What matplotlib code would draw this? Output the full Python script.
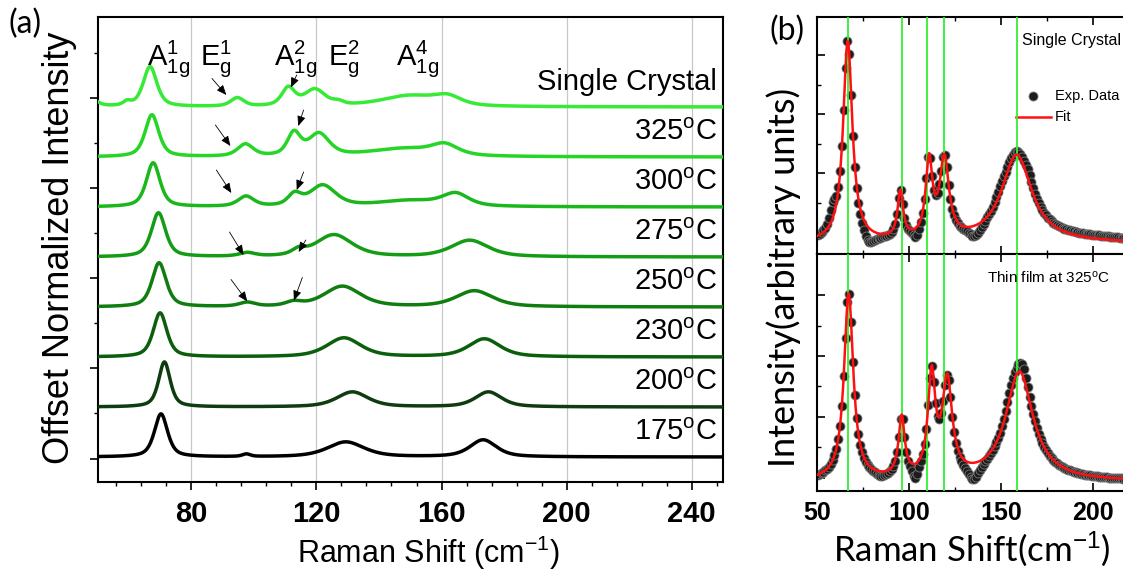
import numpy as np
import matplotlib.pyplot as plt

plt.rcParams['font.family'] = ['Liberation Sans', 'DejaVu Sans']
plt.rcParams['mathtext.fontset'] = 'custom'
plt.rcParams['mathtext.rm'] = 'Liberation Sans'
plt.rcParams['mathtext.it'] = 'Liberation Sans:italic'
plt.rcParams['mathtext.bf'] = 'Liberation Sans:bold'

# ---------------- panel (a): offset spectra, peaks
# each peak = (centre cm-1, height, half width)
labels_a = ['Single Crystal', r'325$^\mathrm{o}$C', r'300$^\mathrm{o}$C', r'275$^\mathrm{o}$C',
            r'250$^\mathrm{o}$C', r'230$^\mathrm{o}$C', r'200$^\mathrm{o}$C', r'175$^\mathrm{o}$C']
offsets_a = [7, 6, 5, 4, 3, 2, 1, 0]
colors_a = ['#36ea36', '#26d626', '#1bb81b', '#159c15', '#0f7d0f', '#0b5e0b', '#0f3c0f', '#000000']

peaks_sc = [(47, 0.25, 2.5), (59.5, 0.08, 1.5), (66.8, 0.80, 2.6), (94.7, 0.17, 2.5),
            (111.0, 0.36, 2.5), (119.5, 0.33, 4.0), (127, 0.06, 2.0), (150, 0.22, 11), (162, 0.16, 5)]
peaks_325 = [(67.4, 0.84, 2.6), (97.3, 0.24, 3.0), (112.8, 0.45, 2.5), (120.8, 0.44, 4.0),
             (148, 0.16, 13), (161, 0.20, 5.0)]
peaks_300 = [(67.8, 0.88, 2.6), (97.5, 0.20, 3.0), (113.0, 0.22, 2.5), (122.0, 0.42, 5.0),
             (150, 0.12, 12), (164.5, 0.24, 5)]
peaks_275 = [(69.5, 0.88, 2.7), (97.9, 0.07, 3.0), (114.3, 0.10, 2.5), (125.6, 0.44, 7.0), (169.0, 0.33, 7.0)]
peaks_250 = [(69.7, 0.88, 2.7), (97.9, 0.08, 3.0), (112.7, 0.08, 3.0), (128.3, 0.41, 7.0), (170.5, 0.32, 7.0)]
peaks_230 = [(70.0, 0.88, 2.6), (128.8, 0.38, 6.5), (173.7, 0.36, 6.0)]
peaks_200 = [(71.4, 0.90, 2.2), (131.5, 0.30, 6.0), (175.0, 0.30, 5.0)]
peaks_175 = [(70.3, 0.86, 2.5), (97.6, 0.05, 1.5), (129.4, 0.30, 7.0), (173.3, 0.34, 5.0)]
peaks_a = [peaks_sc, peaks_325, peaks_300, peaks_275, peaks_250, peaks_230, peaks_200, peaks_175]

mode_names = [r'$\mathrm{A}_{\mathrm{1g}}^{\mathrm{1}}$', r'$\mathrm{E}_{\mathrm{g}}^{\mathrm{1}}$',
              r'$\mathrm{A}_{\mathrm{1g}}^{\mathrm{2}}$', r'$\mathrm{E}_{\mathrm{g}}^{\mathrm{2}}$',
              r'$\mathrm{A}_{\mathrm{1g}}^{\mathrm{4}}$']
mode_x = [65.9, 82.9, 106.3, 123.6, 145.4]

# arrows (tail x, tail y, head x, head y)
arrows_a = [(86.6, 7.57, 91.2, 7.24), (113.7, 7.64, 111.8, 7.39),
            (87.7, 6.64, 92.5, 6.22), (115.9, 6.94, 114.2, 6.62),
            (88.0, 5.74, 92.8, 5.28), (115.9, 5.70, 113.7, 5.34),
            (92.2, 4.50, 96.7, 4.04), (116.6, 4.34, 114.3, 4.10),
            (92.7, 3.55, 97.9, 3.11), (115.5, 3.59, 112.8, 3.13)]

# ---------------- panel (b): fits (centre, height, hwhm) and extra structure of the data
fit_sc = [(66.7, 0.85, 3.0), (95.3, 0.20, 1.8), (110.9, 0.32, 2.2), (119.2, 0.33, 3.0), (158.5, 0.37, 10.0)]
dev_sc = [(58.5, 0.07, 2.0), (78, -0.06, 4), (104, -0.04, 2.0), (136, -0.05, 4), (150, 0.03, 4),
          (165, 0.03, 3), (200, 0.015, 30)]
base_sc = 0.045
fit_tf = [(67.2, 0.79, 3.0), (96.0, 0.25, 2.0), (112.3, 0.42, 2.4), (120.8, 0.40, 3.2), (160.0, 0.46, 9.0)]
dev_tf = [(85, -0.02, 3), (103.5, -0.06, 2), (135, -0.07, 4), (155, 0.03, 3), (162, 0.04, 3)]
base_tf = 0.04
green_lines = [66.7, 96.2, 109.6, 119.0, 158.5]


def spectrum(x, peaks, eta=0.6):
    y = np.zeros_like(x)
    for c, h, w in peaks:
        u = ((x - c) / w) ** 2
        y += h * (eta / (1 + u) + (1 - eta) * np.exp(-np.log(2) * u))
    return y


W, H = 1123, 573
fig = plt.figure(figsize=(W / 100, H / 100), dpi=100)

def px_axes(l, t, r, b):
    return fig.add_axes([l / W, 1 - b / H, (r - l) / W, (b - t) / H])

# ================= panel (a)
ax = px_axes(97.5, 17, 723, 482)
x = np.arange(50, 250.01, 0.25)
for pk, off, col in zip(peaks_a, offsets_a, colors_a):
    ax.plot(x, off + spectrum(x, pk), color=col, lw=2.5, solid_capstyle='round', zorder=3)
for lab, off in zip(labels_a, offsets_a):
    ax.text(248, off + 0.5, lab, ha='right', va='center', fontsize=21)
for nm, mx in zip(mode_names, mode_x):
    ax.text(mx, 7.84, nm, ha='left', va='baseline', fontsize=21)
for xt, yt, xh, yh in arrows_a:
    ax.annotate('', xy=(xh, yh), xytext=(xt, yt),
                arrowprops=dict(arrowstyle='-|>,head_length=0.6,head_width=0.25',
                                color='black', lw=0.6, shrinkA=0, shrinkB=0), zorder=4)

ax.set_xlim(50, 250)
ax.set_ylim(-0.5, 8.8)
ax.set_xticks([80, 120, 160, 200, 240])
ax.set_xticks(np.arange(56, 250, 8), minor=True)
ax.set_yticks([-0.04, 1.78, 3.58, 5.38, 7.18])
ax.set_yticks([0.88, 2.68, 4.48, 6.28, 8.08], minor=True)
ax.set_yticklabels([])
ax.grid(True, axis='x', which='major', color='#c8c8c8', lw=0.9)
ax.tick_params(axis='x', which='major', direction='out', length=6, width=1.2, pad=7)
ax.tick_params(axis='x', which='minor', direction='out', length=3, width=1.0)
ax.tick_params(axis='y', which='major', direction='out', length=6, width=1.2)
ax.tick_params(axis='y', which='minor', direction='out', length=3, width=1.0)
for lbl in ax.get_xticklabels():
    lbl.set_fontweight('bold')
    lbl.set_fontsize(21)
for s in ax.spines.values():
    s.set_linewidth(1.5)

fig.text(428 / W, 1 - 553 / H, r'Raman Shift (cm$^{-1}$)', ha='center', va='center', fontsize=22)
fig.text(60 / W, 1 - 248 / H, 'Offset Normalized Intensity', ha='center', va='center',
         rotation=90, fontsize=26)
fig.text(25 / W, 1 - 24 / H, '(a)', ha='center', va='center', fontsize=23, family=['Lato', 'DejaVu Sans'])

# ================= panel (b)
xb = np.arange(50, 250.01, 0.5)
xd = np.arange(50.5, 250, 1.0)
axt = px_axes(817, 16.7, 1185, 254)
axb = px_axes(817, 254, 1185, 491)

for a, fit, dev, base, ttl, tx, fs, maj, mnr in [
        (axt, fit_sc, dev_sc, base_sc, 'Single Crystal', 0.558, 11.5,
         [0.09, 0.34, 0.589, 0.838], [0.215, 0.464, 0.713]),
        (axb, fit_tf, dev_tf, base_tf, r'Thin film at 325$^\mathrm{o}$C', 0.461, 11,
         [0.055, 0.312, 0.57, 0.827], [0.186, 0.443, 0.696])]:
    yd = base + spectrum(xd, fit, eta=1.0) + spectrum(xd, dev, eta=1.0)
    a.plot(xd, yd, 'o', ms=6.5, mfc='#1c1c1c', mec='#7a7a7a', mew=0.6, zorder=2)
    for g in green_lines:
        a.axvline(g, color='#33f033', lw=1.3, zorder=3)
    a.plot(xb, base + spectrum(xb, fit, eta=1.0), color='#ff1010', lw=1.8, zorder=4)
    a.set_xlim(50, 250)
    a.set_ylim(0, 1)
    a.set_xticks([50, 100, 150, 200])
    a.set_xticks(np.arange(75, 250, 50), minor=True)
    a.set_yticks(maj)
    a.set_yticks(mnr, minor=True)
    a.set_yticklabels([])
    a.tick_params(which='both', direction='in', top=True, right=False)
    a.tick_params(which='major', length=6, width=1.2)
    a.tick_params(which='minor', length=3, width=1.0)
    for s in a.spines.values():
        s.set_linewidth(1.5)
    a.text(tx, 0.9, ttl, transform=a.transAxes, ha='left', va='center', fontsize=fs)

axt.set_xticklabels([])
axb.tick_params(axis='x', pad=7)
for lbl in axb.get_xticklabels():
    lbl.set_fontweight('bold')
    lbl.set_fontsize(18)

# legend of top panel
axt.plot([0.587], [0.664], 'o', ms=6.5, mfc='#1c1c1c', mec='#7a7a7a', mew=0.6,
         transform=axt.transAxes, clip_on=False)
axt.plot([0.540, 0.636], [0.579, 0.579], color='#ff1010', lw=1.8, transform=axt.transAxes)
axt.text(0.646, 0.664, 'Exp. Data', transform=axt.transAxes, ha='left', va='center', fontsize=10.5)
axt.text(0.646, 0.579, 'Fit', transform=axt.transAxes, ha='left', va='center', fontsize=10.5)

fig.text(972 / W, 1 - 549 / H, r'Raman Shift(cm$^{-1}$)', ha='center', va='center', fontsize=25,
         family=['Lato', 'DejaVu Sans'])
fig.text(784 / W, 1 - 277 / H, 'Intensity(arbitrary units)', ha='center', va='center', rotation=90,
         fontsize=26, family=['Lato', 'DejaVu Sans'])
fig.text(787 / W, 1 - 31 / H, '(b)', ha='center', va='center', fontsize=23, family=['Lato', 'DejaVu Sans'])

fig.savefig('out.png', dpi=100)
